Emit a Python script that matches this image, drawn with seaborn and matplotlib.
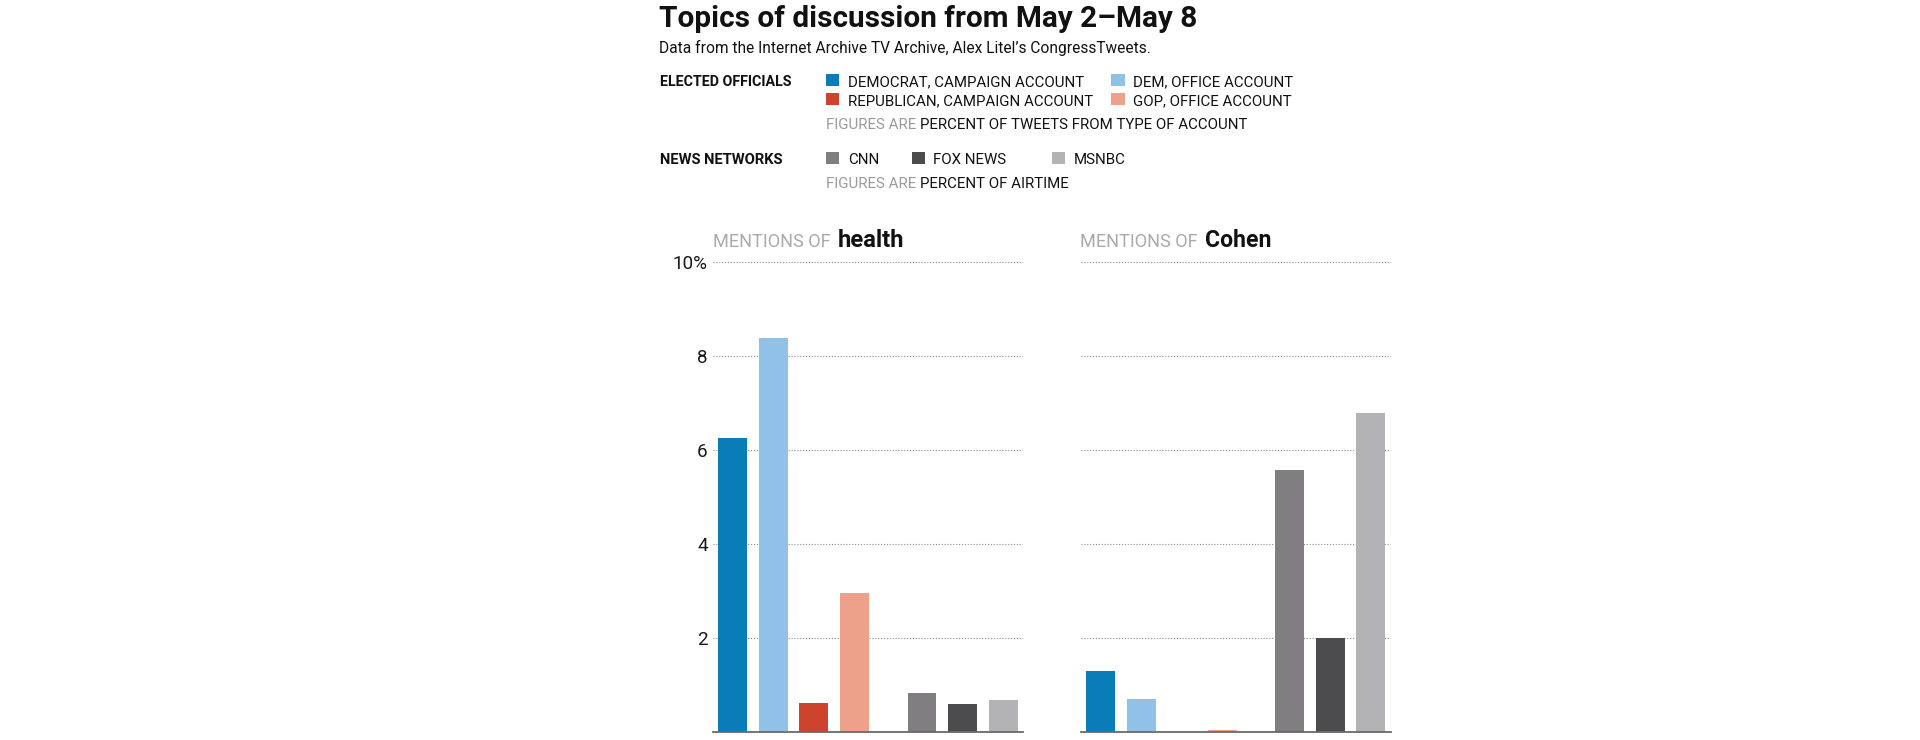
import matplotlib
matplotlib.use("Agg")
import matplotlib.pyplot as plt
from matplotlib.patches import Rectangle
import numpy as np
import pandas as pd
import seaborn as sns

# ---------------- data ----------------
groups = ["DEMOCRAT, CAMPAIGN ACCOUNT", "DEM, OFFICE ACCOUNT",
          "REPUBLICAN, CAMPAIGN ACCOUNT", "GOP, OFFICE ACCOUNT",
          "CNN", "FOX NEWS", "MSNBC"]
topics = ["health", "Cohen"]
health_values = [6.26, 8.39, 0.62, 2.95, 0.84, 0.60, 0.69]
cohen_values = [1.29, 0.70, 0.00, 0.05, 5.57, 1.99, 6.79]
y_ticks = [2, 4, 6, 8, 10]
y_tick_labels = ["2", "4", "6", "8", "10%"]
group_colors = ["#0a7cb7", "#8fc2e6", "#cc442c", "#eda18a",
                "#807e81", "#4c4b4e", "#b3b2b4"]

title = "Topics of discussion from May 2\u2013May 8"
subtitle = "Data from the Internet Archive TV Archive, Alex Litel\u2019s CongressTweets."

# ---------------- style ----------------
sns.set_theme(style="white")
plt.rcParams["font.family"] = ["Roboto", "DejaVu Sans"]

W, H = 1920, 740
fig = plt.figure(figsize=(W / 100, H / 100), dpi=100)
fig.patch.set_facecolor("white")
renderer = fig.canvas.get_renderer()

palette = dict(zip(groups, group_colors))
values_by_topic = {"health": health_values, "Cohen": cohen_values}

# slot positions: party accounts, then a wider gap, then networks
gap_extra = 0.67
def slot(i):
    return i + (gap_extra if i >= 4 else 0.0)

# ---------------- axes ----------------
ymax = 10.1
px_per_unit = 47.0
ax_h = ymax * px_per_unit
base_y = 732.0
ax_w = 310.5
axes_left = [712.7, 1080.5]

axes = []
for k, topic in enumerate(topics):
    ax = fig.add_axes([axes_left[k] / W, (H - base_y) / H, ax_w / W, ax_h / H])
    df = pd.DataFrame({
        "group": groups,
        "value": values_by_topic[topic],
        "pos": [slot(i) for i in range(len(groups))],
    })
    sns.barplot(data=df, x="pos", y="value", hue="group", hue_order=groups,
                palette=palette, native_scale=True, dodge=False, width=0.715,
                saturation=1, legend=False, errorbar=None, linewidth=0, ax=ax)
    ax.set_xlim(-0.496, 7.168)
    ax.set_ylim(0, ymax)
    ax.set_xticks([])
    ax.set_xlabel("")
    ax.set_ylabel("")
    ax.set_yticks(y_ticks)
    if k == 0:
        ax.set_yticklabels(y_tick_labels)
    else:
        ax.set_yticklabels([])
    ax.tick_params(axis="y", length=0, pad=3.6, labelsize=13.6, labelcolor="#1a1a1a")
    ax.set_axisbelow(True)
    ax.yaxis.grid(True, color="#8c8c8c", linestyle=(0, (1, 1.6)), linewidth=0.8)
    ax.xaxis.grid(False)
    for s in ["top", "left", "right"]:
        ax.spines[s].set_visible(False)
    ax.spines["bottom"].set_color("#6a6a6a")
    ax.spines["bottom"].set_linewidth(1.3)
    ax.set_facecolor("none")
    axes.append(ax)

# ---------------- text helpers ----------------
def put(x, base, s, size_px, target_w=None, boost=1.0, **kw):
    t = fig.text(x / W, 1 - base / H, s, fontsize=size_px * 0.72,
                 va="baseline", ha="left", **kw)
    if target_w:
        w = t.get_window_extent(renderer).width
        if w > 0:
            t.set_fontsize(size_px * 0.72 * target_w / w * boost)
    return t

def width_of(t):
    return t.get_window_extent(renderer).width

def swatch(x, top, color, w=13.5, h=12.5):
    fig.add_artist(Rectangle((x / W, 1 - (top + h) / H), w / W, h / H,
                             transform=fig.transFigure, facecolor=color,
                             edgecolor="none"))

BLACK = "#111111"
GRAY = "#9a9a9a"

# title + subtitle
put(659.3, 26.8, title, 29, target_w=539, fontweight="bold", color=BLACK)
put(659.3, 53.3, subtitle, 13.5, target_w=491, color=BLACK)

# elected officials legend
put(660, 86, "ELECTED OFFICIALS", 13.5, target_w=133, fontweight="bold", color=BLACK)
leg_rows = [(86, 0, 1), (105, 2, 3)]
for base, i_left, i_right in leg_rows:
    swatch(825.7, base - 12.3, group_colors[i_left])
    swatch(1111.0, base - 12.3, group_colors[i_right])
t = put(848, 86, groups[0], 15, target_w=236, color=BLACK)
leg_size = t.get_fontsize() / 0.72
put(848, 105, groups[2], leg_size, color=BLACK)
put(1133, 86, groups[1], leg_size, color=BLACK)
put(1133, 105, groups[3], leg_size, color=BLACK)

t1 = put(825.7, 128.6, "FIGURES ARE", leg_size, color=GRAY)
put(825.7 + width_of(t1) + 4.5, 128.6, "PERCENT OF TWEETS FROM TYPE OF ACCOUNT",
    leg_size, color=BLACK)

# news networks legend
put(660, 164, "NEWS NETWORKS", 13.5, target_w=124, fontweight="bold", color=BLACK)
net_x = [(825.7, 848.0), (911.7, 933.0), (1051.5, 1073.3)]
for (sx, tx), i in zip(net_x, [4, 5, 6]):
    swatch(sx, 164 - 12.3, group_colors[i])
    put(tx, 164, groups[i], leg_size, color=BLACK)
t2 = put(825.7, 188.3, "FIGURES ARE", leg_size, color=GRAY)
put(825.7 + width_of(t2) + 4.5, 188.3, "PERCENT OF AIRTIME", leg_size, color=BLACK)

# panel titles
for k, topic in enumerate(topics):
    x0 = axes_left[k]
    tg = put(x0, 246.7, "MENTIONS OF", 18.5, target_w=115.5, boost=1.02, color="#aaaaaa")
    put(x0 + width_of(tg) + 7.0, 246.7, topic, 23, target_w=66.5,
        fontweight="bold", color=BLACK)

fig.savefig("out.png", dpi=100, facecolor="white")
